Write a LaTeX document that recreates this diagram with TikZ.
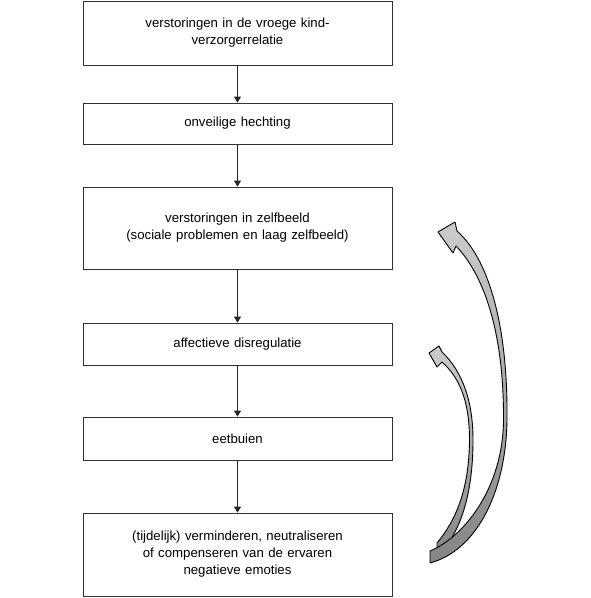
\documentclass[tikz,border=0pt]{standalone}
\usepackage{fontspec}
\setmainfont{Liberation Sans}
\usetikzlibrary{arrows.meta}

\tikzset{
  stage/.style={draw=black!80, line width=0.8pt, minimum width=309pt,
    text width=300pt, align=center, inner sep=0pt,
    font=\fontsize{13.2}{17}\selectfont},
  flow/.style={draw=black!85, line width=0.8pt, -{Triangle[length=6pt,width=7pt]}},
  loop/.style={draw=black, line width=0.9pt, line join=round,
    top color=black!20, bottom color=black!48}
}

\begin{document}
\begin{tikzpicture}[x=1pt,y=-1pt]
  \useasboundingbox (0,0) rectangle (590,598);

  % Boxes of the chain
  \node[stage, minimum height=64pt] (kind) at (237.5,33) {verstoringen in de vroege kind-\\verzorgerrelatie};
  \node[stage, minimum height=41pt] (hechting) at (237.5,123.5) {onveilige hechting};
  \node[stage, minimum height=82pt] (zelfbeeld) at (237.5,228) {verstoringen in zelfbeeld\\(sociale problemen en laag zelfbeeld)};
  \node[stage, minimum height=42pt] (disreg) at (237.5,344) {affectieve disregulatie};
  \node[stage, minimum height=43pt] (eetbui) at (237.5,438.5) {eetbuien};
  \node[stage, minimum height=83pt] (emotie) at (237.5,554.5) {(tijdelijk) verminderen, neutraliseren\\of compenseren van de ervaren\\negatieve emoties};

  % Arrows between the boxes
  \draw[flow] (kind) -- (hechting);
  \draw[flow] (hechting) -- (zelfbeeld);
  \draw[flow] (zelfbeeld) -- (disreg);
  \draw[flow] (disreg) -- (eetbui);
  \draw[flow] (eetbui) -- (emotie);

  % Curved block arrows back up
  \def\smallloop{(437,543) .. controls (456,520) and (469,490) .. (469.5,440)
    .. controls (469.5,402) and (460,378) .. (442,362) -- (437,367) -- (429,353)
    -- (439,346) -- (442,352) .. controls (463,372) and (473,402) .. (473,440)
    .. controls (473,495) and (460,535) .. (437,556) -- cycle}
  \def\bigloop{(430,551) .. controls (462,538) and (503,490) .. (503.5,420)
    .. controls (504,330) and (483,274) .. (456,246) -- (453,253) -- (438,232)
    -- (455,222) -- (457,231) .. controls (492,262) and (508,335) .. (507,420)
    .. controls (506,490) and (478,550) .. (430,563) -- cycle}

  \draw[loop] \smallloop;
  \draw[loop] \bigloop;
\end{tikzpicture}
\end{document}
